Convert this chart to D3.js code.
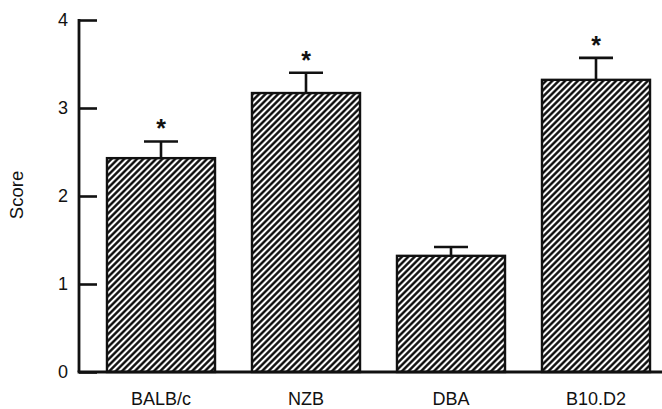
<!DOCTYPE html>
<html>
<head>
<meta charset="utf-8">
<script src="https://cdn.jsdelivr.net/npm/d3@7"></script>
<style>
  html, body { margin: 0; padding: 0; background: #fff; }
  svg { display: block; font-family: "Liberation Sans", Arial, Helvetica, sans-serif; }
</style>
</head>
<body>
<svg id="chart" width="662" height="409"></svg>
<script>
// Mouse strains and their mean scores with the upper error (mean + SEM)
const strains = ["BALB/c", "NZB", "DBA", "B10.D2"];
const scores = [2.43, 3.17, 1.32, 3.32];
const errorTops = [2.62, 3.40, 1.42, 3.57];
const significant = [true, true, false, true];
const yTicks = [0, 1, 2, 3, 4];

const svg = d3.select("#chart");
const axisX = 79;

const x = d3.scaleBand()
  .domain(strains)
  .range([88.5, 668.5])
  .paddingInner(0.255)
  .paddingOuter(0.1275);

const y = d3.scaleLinear().domain([0, 4]).range([372, 20]);

// Diagonal hatch fill for the bars
const period = 4.5;
const defs = svg.append("defs");
const pat = defs.append("pattern")
  .attr("id", "hatch")
  .attr("patternUnits", "userSpaceOnUse")
  .attr("width", period)
  .attr("height", period)
  .attr("patternTransform", "rotate(45)");
pat.append("rect").attr("width", period).attr("height", period).attr("fill", "#fff");
pat.append("line")
  .attr("x1", period / 2).attr("y1", 0).attr("x2", period / 2).attr("y2", period)
  .attr("stroke", "#000").attr("stroke-width", 2.3);

// Error bars (upper whisker only)
const capHalf = 17;
const eb = svg.append("g").attr("stroke", "#111").attr("stroke-width", 2.6);
strains.forEach((s, i) => {
  const cx = x(s) + x.bandwidth() / 2;
  eb.append("line")
    .attr("x1", cx).attr("x2", cx)
    .attr("y1", y(scores[i])).attr("y2", y(errorTops[i]));
  eb.append("line")
    .attr("x1", cx - capHalf).attr("x2", cx + capHalf)
    .attr("y1", y(errorTops[i])).attr("y2", y(errorTops[i]));
});

// Bars
svg.append("g").selectAll("rect")
  .data(strains)
  .join("rect")
  .attr("x", d => x(d))
  .attr("width", x.bandwidth())
  .attr("y", (d, i) => y(scores[i]))
  .attr("height", (d, i) => y(0) - y(scores[i]))
  .attr("fill", "url(#hatch)")
  .attr("stroke", "#111")
  .attr("stroke-width", 2.4);

// Significance markers
svg.append("g").selectAll("text")
  .data(strains.filter((d, i) => significant[i]))
  .join("text")
  .attr("x", d => x(d) + x.bandwidth() / 2)
  .attr("y", d => y(errorTops[strains.indexOf(d)]) - 4)
  .attr("text-anchor", "middle")
  .attr("font-size", 25)
  .attr("font-weight", "bold")
  .attr("fill", "#111")
  .text("*");

// Y axis with inward ticks
const yAxis = d3.axisRight(y)
  .tickValues(yTicks)
  .tickSize(18)
  .tickPadding(0)
  .tickFormat("");
const yg = svg.append("g").attr("transform", `translate(${axisX},0)`).call(yAxis);
yg.select(".domain").remove();
yg.selectAll(".tick line").attr("stroke", "#111").attr("stroke-width", 2.6);
yg.append("line")
  .attr("x1", 0).attr("x2", 0)
  .attr("y1", y(4) - 1).attr("y2", y(0))
  .attr("stroke", "#111").attr("stroke-width", 2.8);

svg.append("g").selectAll("text")
  .data(yTicks)
  .join("text")
  .attr("x", 68)
  .attr("y", d => y(d))
  .attr("dy", "0.36em")
  .attr("text-anchor", "end")
  .attr("font-size", 18)
  .attr("fill", "#111")
  .text(d => d);

// Baseline
svg.append("line")
  .attr("x1", axisX - 1.4).attr("x2", 662)
  .attr("y1", y(0)).attr("y2", y(0))
  .attr("stroke", "#111").attr("stroke-width", 2.8);

// X axis labels
const xAxis = d3.axisBottom(x).tickSize(0).tickPadding(0);
const xg = svg.append("g").attr("transform", `translate(0,${y(0)})`).call(xAxis);
xg.select(".domain").remove();
xg.selectAll(".tick text")
  .attr("y", 33)
  .attr("dy", 0)
  .attr("font-size", 18)
  .attr("font-family", "\"Liberation Sans\", Arial, sans-serif")
  .attr("fill", "#111");

// Y axis title
svg.append("text")
  .attr("transform", `translate(23,195) rotate(-90)`)
  .attr("text-anchor", "middle")
  .attr("font-size", 18.5)
  .attr("fill", "#111")
  .text("Score");
</script>
</body>
</html>
